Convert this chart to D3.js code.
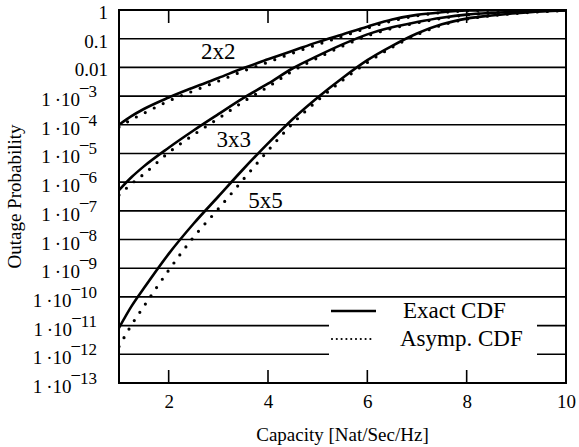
<!DOCTYPE html>
<html>
<head>
<meta charset="utf-8">
<script src="https://cdn.jsdelivr.net/npm/d3@7/dist/d3.min.js"></script>
<style>
  html, body { margin: 0; padding: 0; background: #fff; }
  svg { display: block; }
  text { font-family: "Liberation Serif", "Times New Roman", serif; fill: #000; }
</style>
</head>
<body>
<svg id="chart" width="579" height="447"></svg>
<script>
// ---- data ----
const capacity = [1, 1.25, 1.5, 2, 2.5, 3, 3.5, 4, 4.5, 5, 5.5, 6, 6.5, 7, 7.5, 8, 8.5, 9, 9.5, 10];
// -log10(outage probability) for each curve
const exact2x2 = [4.0, 3.7, 3.45, 3.05, 2.7, 2.37, 2.03, 1.72, 1.42, 1.12, 0.85, 0.58, 0.33, 0.17, 0.08, 0.02, 0.005, 0, 0, 0];
const asymp2x2 = [4.08, 3.82, 3.6, 3.17, 2.82, 2.48, 2.13, 1.82, 1.5, 1.2, 0.92, 0.63, 0.38, 0.2, 0.09, 0.03, 0.01, 0, 0, 0];
const exact3x3 = [6.28, 5.83, 5.45, 4.8, 4.2, 3.63, 3.07, 2.57, 2.03, 1.6, 1.2, 0.85, 0.6, 0.42, 0.27, 0.16, 0.1, 0.06, 0.03, 0.01];
const asymp3x3 = [6.45, 6.06, 5.72, 4.97, 4.35, 3.78, 3.2, 2.68, 2.12, 1.67, 1.26, 0.9, 0.64, 0.45, 0.29, 0.17, 0.11, 0.06, 0.03, 0.01];
const exact5x5 = [11.08, 10.33, 9.7, 8.5, 7.45, 6.5, 5.55, 4.65, 3.8, 3.05, 2.37, 1.75, 1.25, 0.82, 0.5, 0.3, 0.19, 0.11, 0.05, 0.02];
const asymp5x5 = [11.73, 10.98, 10.33, 9.07, 7.92, 6.93, 5.91, 4.9, 3.95, 3.15, 2.45, 1.83, 1.3, 0.86, 0.53, 0.32, 0.2, 0.12, 0.06, 0.02];
const curveLabels = ["2x2", "3x3", "5x5"];
const curveLabelPos = [[3.0, 0.0196], [3.31, 1.74e-5], [3.95, 1.26e-7]]; // [capacity, probability] anchor points
const xTicks = [2, 4, 6, 8, 10];
const yExponents = d3.range(0, 14); // 10^0 .. 10^-13
const legendLabels = ["Exact CDF", "Asymp. CDF"];
const xTitle = "Capacity [Nat/Sec/Hz]";
const yTitle = "Outage Probability";

// ---- layout ----
const L = 119, R = 566, T = 10, B = 383;
const svg = d3.select("#chart");
const x = d3.scaleLinear().domain([1, 10]).range([L, R]);
const y = d3.scaleLog().domain([1e-13, 1]).range([B, T]);

svg.append("defs").append("clipPath").attr("id", "plotclip")
  .append("rect").attr("x", L).attr("y", T).attr("width", R - L).attr("height", B - T);

// horizontal grid lines
const grid = svg.append("g");
yExponents.forEach(k => {
  if (k === 0 || k === 13) return;
  grid.append("line")
    .attr("x1", L).attr("x2", R)
    .attr("y1", y(Math.pow(10, -k))).attr("y2", y(Math.pow(10, -k)))
    .attr("stroke", "#000").attr("stroke-width", 1.6);
});

// x ticks (inside, bottom and top)
const xAxisB = d3.axisBottom(x).tickValues(xTicks).tickSize(0).tickFormat(d3.format("d"));
const gxb = svg.append("g").attr("transform", `translate(0,${B})`).call(xAxisB);
gxb.select(".domain").remove();
gxb.selectAll("text").attr("font-size", 19).attr("dy", 0).attr("y", 25)
  .style("font-family", "'Liberation Serif', serif");
xTicks.filter(t => t < 10).forEach(t => {
  svg.append("line").attr("x1", x(t)).attr("x2", x(t)).attr("y1", B).attr("y2", B - 13)
    .attr("stroke", "#000").attr("stroke-width", 1.6);
  svg.append("line").attr("x1", x(t)).attr("x2", x(t)).attr("y1", T).attr("y2", T + 13)
    .attr("stroke", "#000").attr("stroke-width", 1.6);
});

// y tick labels
const ylab = svg.append("g");
yExponents.forEach(k => {
  const gy = y(Math.pow(10, -k));
  if (k < 3) {
    ylab.append("text").attr("x", 108).attr("y", gy + 9).attr("text-anchor", "end")
      .attr("font-size", 19).text(k === 0 ? "1" : (k === 1 ? "0.1" : "0.01"));
  } else {
    const t = ylab.append("text").attr("x", 97).attr("y", gy + 10).attr("text-anchor", "end")
      .attr("font-size", 19);
    t.append("tspan").text("1\u2009\u00B710");
    t.append("tspan").attr("dy", -14).attr("font-size", 17).text("\u2013");
    t.append("tspan").attr("dy", 5).attr("font-size", 17).text(String(k));
  }
});

// curves
const line = d3.line()
  .x((d, i) => x(capacity[i]))
  .y(d => y(Math.pow(10, -d)))
  .curve(d3.curveMonotoneX);
const curves = svg.append("g").attr("clip-path", "url(#plotclip)");
[exact2x2, exact3x3, exact5x5].forEach(s => {
  curves.append("path").attr("d", line(s)).attr("fill", "none")
    .attr("stroke", "#000").attr("stroke-width", 2.6).attr("stroke-linejoin", "round");
});
[asymp2x2, asymp3x3, asymp5x5].forEach(s => {
  curves.append("path").attr("d", line(s)).attr("fill", "none")
    .attr("stroke", "#000").attr("stroke-width", 3.2)
    .attr("stroke-linecap", "round").attr("stroke-dasharray", "0 10");
});

// curve labels
curveLabels.forEach((lab, i) => {
  svg.append("text").attr("x", x(curveLabelPos[i][0]))
    .attr("y", y(curveLabelPos[i][1]))
    .attr("font-size", 23).attr("text-anchor", "middle").text(lab);
});

// legend
const lg = svg.append("g");
lg.append("rect").attr("x", 329).attr("y", 300).attr("width", 208).attr("height", 58).attr("fill", "#fff");
lg.append("line").attr("x1", 331).attr("x2", 376).attr("y1", 311).attr("y2", 311)
  .attr("stroke", "#000").attr("stroke-width", 2.6);
lg.append("line").attr("x1", 332).attr("x2", 375).attr("y1", 339).attr("y2", 339)
  .attr("stroke", "#000").attr("stroke-width", 2.2).attr("stroke-linecap", "round")
  .attr("stroke-dasharray", "0 4.8");
lg.append("text").attr("x", 403).attr("y", 318).attr("font-size", 23).text(legendLabels[0]);
lg.append("text").attr("x", 400).attr("y", 346).attr("font-size", 23).text(legendLabels[1]);

// frame
svg.append("rect").attr("x", L).attr("y", T).attr("width", R - L).attr("height", B - T)
  .attr("fill", "none").attr("stroke", "#000").attr("stroke-width", 2);

// axis titles
svg.append("text").attr("x", (L + R) / 2).attr("y", 441).attr("text-anchor", "middle")
  .attr("font-size", 19).text(xTitle);
svg.append("text").attr("transform", `translate(21,${(T + B) / 2}) rotate(-90)`)
  .attr("text-anchor", "middle").attr("font-size", 19).text(yTitle);
</script>
</body>
</html>
